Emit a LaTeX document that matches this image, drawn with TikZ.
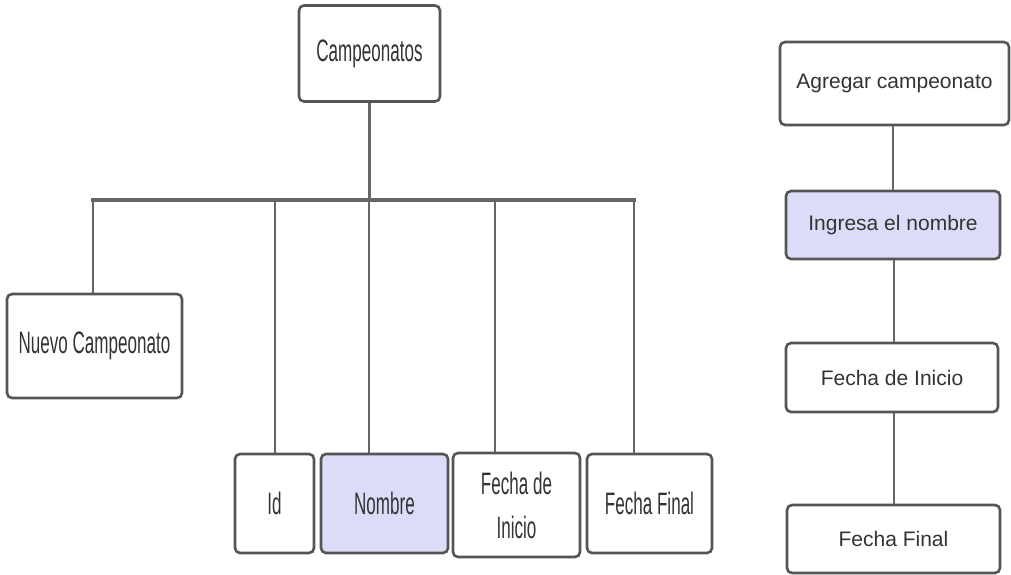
\documentclass[tikz,border=0pt]{standalone}
\usepackage{fontspec}
\setmainfont{Liberation Sans}
\newfontfamily\narrowfont[FakeStretch=0.55]{Liberation Sans}
\definecolor{boxline}{HTML}{555555}
\definecolor{conline}{HTML}{666666}
\definecolor{txt}{HTML}{333333}
\definecolor{lav}{HTML}{DCDCF8}
\tikzset{
  box/.style={draw=boxline, line width=2.6pt, rounded corners=5pt, fill=white,
    text=txt, inner sep=0pt, align=center},
  narrowbox/.style={box, font=\narrowfont\fontsize{31}{44}\selectfont},
  widebox/.style={box, font=\fontsize{21}{26}\selectfont},
  conn/.style={draw=conline, line width=2.4pt},
  bar/.style={draw=conline, line width=4pt}
}
\begin{document}
\begin{tikzpicture}[x=1pt,y=-1pt]
\useasboundingbox (0,0) rectangle (1011,575);
% left tree nodes
\node[narrowbox, minimum width=141pt, minimum height=96pt] (camp) at (369.5,53.5) {Campeonatos};
\node[narrowbox, minimum width=175pt, minimum height=104pt] (nuevo) at (94.5,346) {Nuevo Campeonato};
\node[narrowbox, minimum width=79pt, minimum height=99pt] (id) at (274.5,503.5) {Id};
\node[narrowbox, fill=lav, minimum width=127pt, minimum height=99pt] (nombre) at (384.5,503.5) {Nombre};
\node[narrowbox, minimum width=127pt, minimum height=104pt] (fi) at (516.5,505) {Fecha de\\Inicio};
\node[narrowbox, minimum width=125pt, minimum height=99pt] (ff) at (649.5,503.5) {Fecha Final};
% bar coordinates
\coordinate (barL) at (91,200);
\coordinate (barR) at (636,200);
\coordinate (d0) at (93,200);
\coordinate (d1) at (275,200);
\coordinate (d2) at (369,200);
\coordinate (d3) at (495,200);
\coordinate (d4) at (634,200);
\draw[bar] (barL) -- (barR);
\draw[conn] (camp.south) -- (camp.south |- barL);
\draw[conn] (d0) -- (d0 |- nuevo.north);
\draw[conn] (d1) -- (d1 |- id.north);
\draw[conn] (d2) -- (d2 |- nombre.north);
\draw[conn] (d3) -- (d3 |- fi.north);
\draw[conn] (d4) -- (d4 |- ff.north);
% right chain
\node[widebox, minimum width=229pt, minimum height=83pt] (agr) at (894.5,83.5) {Agregar campeonato};
\node[widebox, fill=lav, minimum width=214pt, minimum height=68pt] (ing) at (893,225) {Ingresa el nombre};
\node[widebox, minimum width=212pt, minimum height=69pt] (fir) at (892,377.5) {Fecha de Inicio};
\node[widebox, minimum width=213pt, minimum height=68pt] (ffr) at (893.5,539) {Fecha Final};
\coordinate (r1) at (893,0);
\coordinate (r2) at (894,0);
\draw[conn] (r1 |- agr.south) -- (r1 |- ing.north);
\draw[conn] (r2 |- ing.south) -- (r2 |- fir.north);
\draw[conn] (r2 |- fir.south) -- (r2 |- ffr.north);
\end{tikzpicture}
\end{document}
